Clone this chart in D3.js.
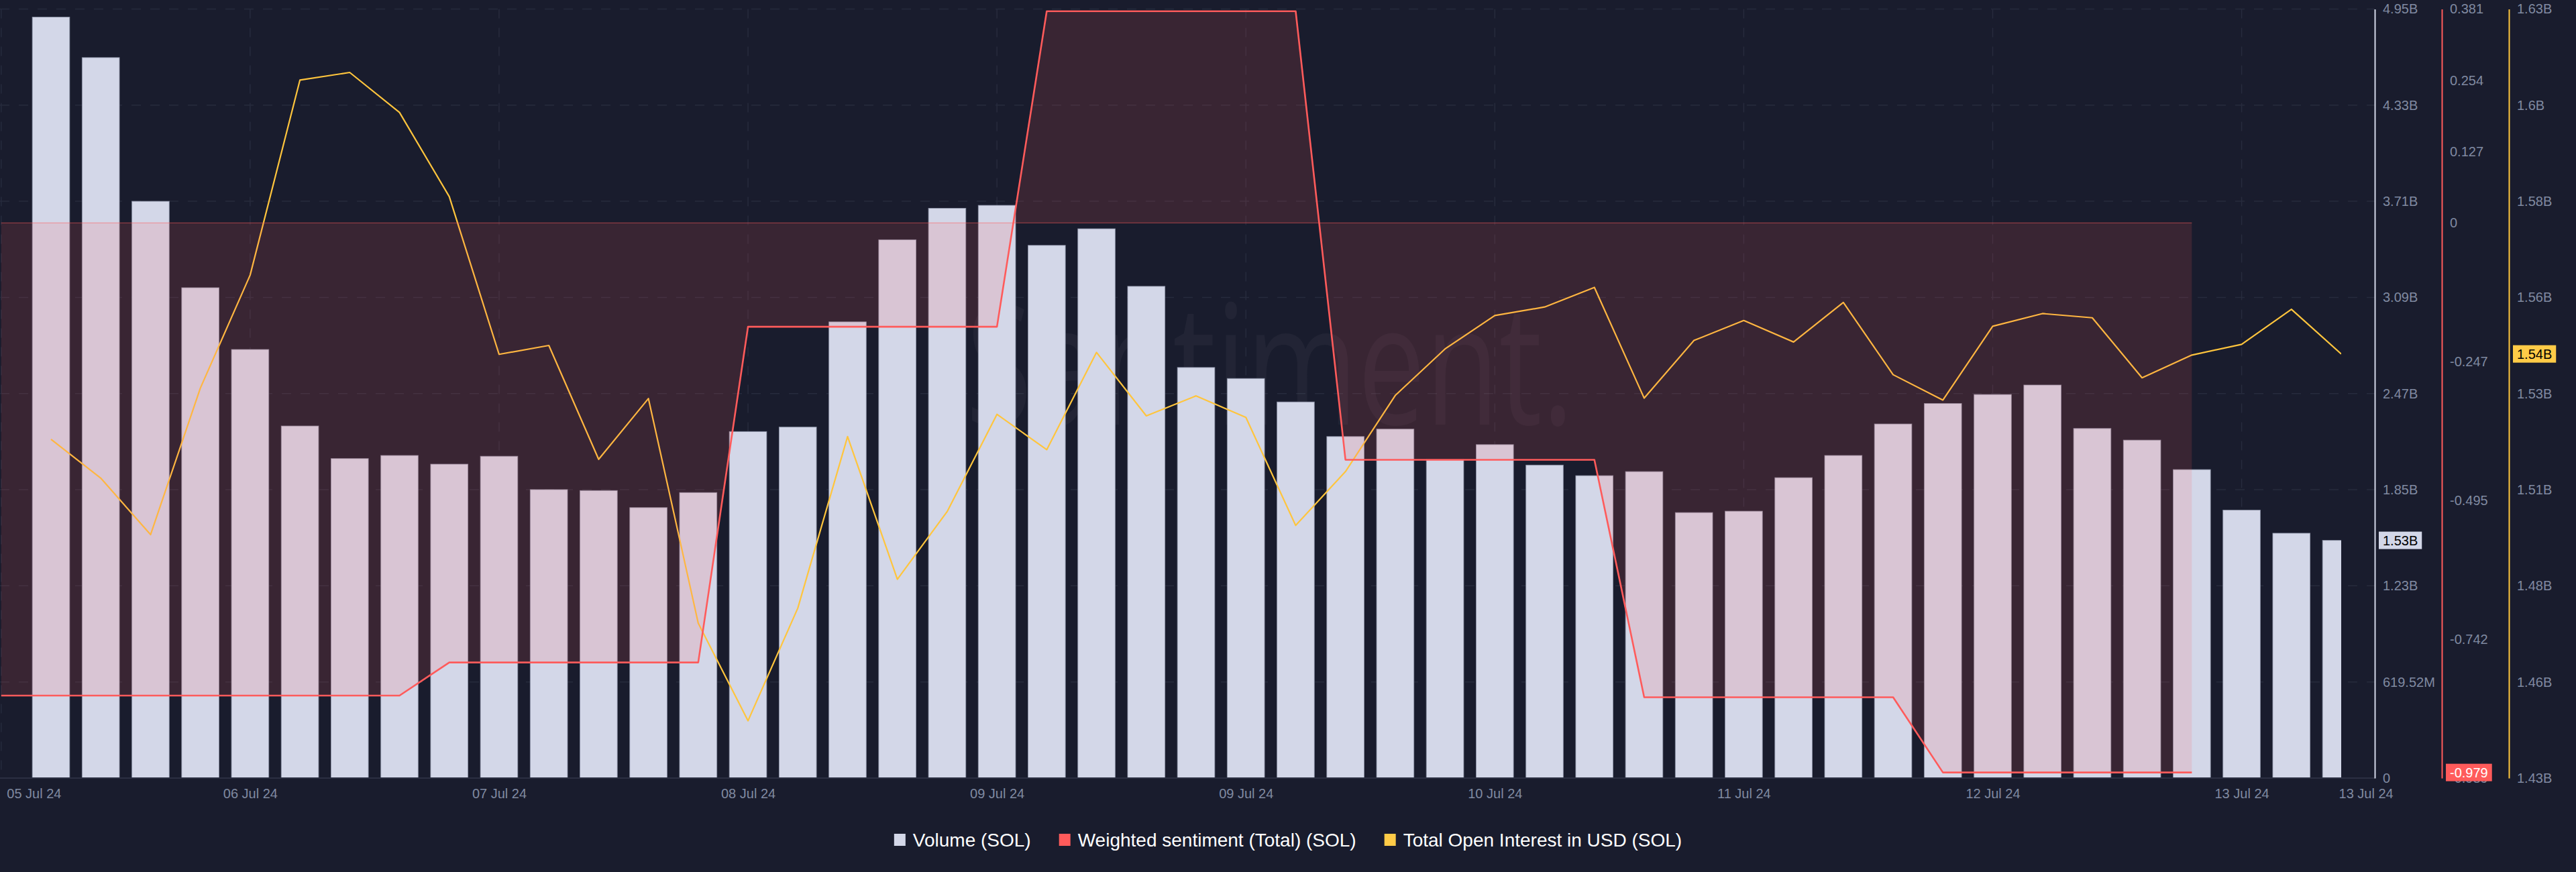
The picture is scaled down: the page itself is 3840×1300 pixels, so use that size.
<!DOCTYPE html>
<html>
<head>
<meta charset="utf-8">
<script src="https://cdn.jsdelivr.net/npm/d3@7"></script>
<style>
    body { margin: 0; background: #191c2d; }
    svg { display: block; font-family: "Liberation Sans", Arial, sans-serif; }
</style>
</head>
<body>
<svg id="chart"></svg>
<script>
// bar index -> one 4.8h period, 05 Jul .. 13 Jul 2024
let volume = [4.904, 4.643, 3.717, 3.160, 2.762, 2.269, 2.059, 2.079, 2.023, 2.074,
    1.859, 1.853, 1.743, 1.840, 2.233, 2.262, 2.940, 3.469, 3.672, 3.691,
    3.433, 3.540, 3.169, 2.646, 2.575, 2.424, 2.201, 2.249, 2.053, 2.149,
    2.017, 1.949, 1.975, 1.711, 1.720, 1.936, 2.079, 2.282, 2.414, 2.472,
    2.533, 2.253, 2.178, 1.988, 1.727, 1.578, 1.532];

let openInterest = [1.5181, 1.5080, 1.4933, 1.5314, 1.5608, 1.6115, 1.6135, 1.6031, 1.5812, 1.5402,
    1.5425, 1.5129, 1.5287, 1.4703, 1.4449, 1.4742, 1.5188, 1.4817, 1.4993, 1.5246,
    1.5154, 1.5407, 1.5242, 1.5294, 1.5238, 1.4957, 1.5097, 1.5295, 1.5416, 1.5503,
    1.5525, 1.5576, 1.5288, 1.5438, 1.5490, 1.5434, 1.5537, 1.5349, 1.5283, 1.5475,
    1.5508, 1.5497, 1.5341, 1.5400, 1.5428, 1.5519, 1.5403];

// sentiment starts one period before the first bar and stops at index 43
let sentimentStart = -1;
let sentiment = [-0.842, -0.842, -0.842, -0.842, -0.842, -0.842, -0.842, -0.842, -0.842,
    -0.783, -0.783, -0.783, -0.783, -0.783, -0.783,
    -0.185, -0.185, -0.185, -0.185, -0.185, -0.185,
    0.377, 0.377, 0.377, 0.377, 0.377, 0.377,
    -0.422, -0.422, -0.422, -0.422, -0.422, -0.422,
    -0.845, -0.845, -0.845, -0.845, -0.845, -0.845,
    -0.979, -0.979, -0.979, -0.979, -0.979, -0.979];

let dateTicks = [-1, 4, 9, 14, 19, 24, 29, 34, 39, 44];
let dateLabels = ['05 Jul 24', '06 Jul 24', '07 Jul 24', '08 Jul 24', '09 Jul 24',
    '09 Jul 24', '10 Jul 24', '11 Jul 24', '12 Jul 24', '13 Jul 24'];
let endDateLabel = '13 Jul 24';

let volTicks = [0, 0.61952, 1.23904, 1.85856, 2.47808, 3.0976, 3.71712, 4.33664, 4.95616];
let volLabels = ['0', '619.52M', '1.23B', '1.85B', '2.47B', '3.09B', '3.71B', '4.33B', '4.95B'];
let sentTicks = [0.381, 0.254, 0.127, 0, -0.247, -0.495, -0.742, -0.989];
let sentLabels = ['0.381', '0.254', '0.127', '0', '-0.247', '-0.495', '-0.742', '-0.989'];
let oiTicks = [1.43, 1.455, 1.48, 1.505, 1.53, 1.555, 1.58, 1.605, 1.63];
let oiLabels = ['1.43B', '1.46B', '1.48B', '1.51B', '1.53B', '1.56B', '1.58B', '1.6B', '1.63B'];

// last values as shown on the axis badges
let lastLabels = { volume: '1.53B', sentiment: '-0.979', openInterest: '1.54B' };

let legendItems = [
    { name: 'Volume (SOL)', color: '#d3d7e8' },
    { name: 'Weighted sentiment (Total) (SOL)', color: '#ff5b5b' },
    { name: 'Total Open Interest in USD (SOL)', color: '#ffcb47' }
];

let width = 3840, height = 1300;
let plot = { left: 0, right: 3540, top: 13.4, bottom: 1160 };
let volColor = '#d3d7e8', sentColor = '#ff5b5b', oiColor = '#ffc53d';
let labelColor = '#808aa1', gridColor = '#272b3d';

let svg = d3.select('#chart')
    .attr('width', width)
    .attr('height', height)
    .style('background', '#191c2d');

let lastIdx = volume.length - 1;
let xScale = d3.scaleLinear()
    .domain([0, lastIdx])
    .range([76, 3490]);
let step = xScale(1) - xScale(0);
let barW = step * 0.75;

let yVol = d3.scaleLinear().domain([0, volTicks[volTicks.length - 1]]).range([plot.bottom, plot.top]);
let ySent = d3.scaleLinear().domain([-0.989, 0.381]).range([plot.bottom, plot.top]);
let yOI = d3.scaleLinear().domain([1.43, 1.63]).range([plot.bottom, plot.top]);

// grid
let grid = svg.append('g');
grid.selectAll('line.h').data(volTicks.slice(1)).enter().append('line')
    .attr('x1', plot.left).attr('x2', plot.right)
    .attr('y1', d => yVol(d)).attr('y2', d => yVol(d))
    .attr('stroke', gridColor).attr('stroke-width', 1.5)
    .attr('stroke-dasharray', '14,14');
grid.selectAll('line.v').data(dateTicks).enter().append('line')
    .attr('x1', d => xScale(d)).attr('x2', d => xScale(d))
    .attr('y1', plot.top).attr('y2', plot.bottom)
    .attr('stroke', gridColor).attr('stroke-width', 1.5)
    .attr('stroke-dasharray', '14,14');

// watermark
svg.append('text')
    .attr('x', 1440).attr('y', 633)
    .attr('textLength', 906).attr('lengthAdjust', 'spacingAndGlyphs')
    .style('font-family', '"Open Sans", sans-serif')
    .style('font-size', '250px')
    .style('fill', '#ffffff').style('fill-opacity', 0.04)
    .text('Santiment.');

svg.append('clipPath').attr('id', 'plotClip')
    .append('rect')
    .attr('x', plot.left).attr('y', 0)
    .attr('width', xScale(lastIdx) - plot.left).attr('height', plot.bottom + 2);

let chartArea = svg.append('g').attr('clip-path', 'url(#plotClip)');

// volume bars
chartArea.append('g').selectAll('rect').data(volume)
    .enter().append('rect')
    .attr('x', (d, i) => xScale(i) - barW / 2)
    .attr('y', d => yVol(d))
    .attr('width', barW)
    .attr('height', d => yVol(0) - yVol(d))
    .attr('fill', volColor)
    .attr('stroke', '#8d93a8')
    .attr('stroke-width', 1)
    .attr('stroke-opacity', 0.8);

// open interest line (under the sentiment fill)
let oiLine = d3.line()
    .x((d, i) => xScale(i))
    .y(d => yOI(d));
chartArea.append('path')
    .datum(openInterest)
    .attr('d', oiLine)
    .attr('fill', 'none')
    .attr('stroke', oiColor)
    .attr('stroke-width', 2.2)
    .attr('stroke-linejoin', 'round');

// sentiment area against zero, then its line
let sentArea = d3.area()
    .x((d, i) => xScale(i + sentimentStart))
    .y0(ySent(0))
    .y1(d => ySent(d));
chartArea.append('path')
    .datum(sentiment)
    .attr('d', sentArea)
    .attr('fill', sentColor)
    .attr('fill-opacity', 0.14);

chartArea.append('line')
    .attr('x1', xScale(sentimentStart)).attr('x2', xScale(sentimentStart + sentiment.length - 1))
    .attr('y1', ySent(0)).attr('y2', ySent(0))
    .attr('stroke', sentColor).attr('stroke-opacity', 0.6).attr('stroke-width', 1);

let sentLine = d3.line()
    .x((d, i) => xScale(i + sentimentStart))
    .y(d => ySent(d));
chartArea.append('path')
    .datum(sentiment)
    .attr('d', sentLine)
    .attr('fill', 'none')
    .attr('stroke', sentColor)
    .attr('stroke-width', 2.6)
    .attr('stroke-linejoin', 'round');

// bottom base line
svg.append('line')
    .attr('x1', plot.left).attr('x2', plot.right)
    .attr('y1', plot.bottom).attr('y2', plot.bottom)
    .attr('stroke', '#2b2f42').attr('stroke-width', 2);

// right axes
function rightAxis(scale, ticks, labels, xPos, color) {
    let axis = d3.axisRight(scale)
        .tickValues(ticks)
        .tickFormat((d, i) => labels[i])
        .tickSize(0)
        .tickSizeOuter(0)
        .tickPadding(12);
    let g = svg.append('g')
        .attr('transform', 'translate(' + xPos + ',0)')
        .call(axis);
    g.select('.domain').attr('stroke', color).attr('stroke-width', 2);
    g.selectAll('text')
        .attr('fill', labelColor)
        .style('font-size', '20px')
        .style('font-family', '"Liberation Sans", Arial, sans-serif');
    return g;
}
rightAxis(yVol, volTicks, volLabels, plot.right, volColor);
rightAxis(ySent, sentTicks, sentLabels, 3640, sentColor);
rightAxis(yOI, oiTicks, oiLabels, 3740, oiColor);

// last-value badges
function badge(xPos, yPos, text, bg, fg) {
    let g = svg.append('g').attr('transform', 'translate(' + xPos + ',' + yPos + ')');
    let t = g.append('text')
        .attr('x', 6).attr('y', 0).attr('dy', '0.35em')
        .style('font-size', '20px')
        .attr('fill', fg)
        .text(text);
    let w = t.node().getComputedTextLength() + 12;
    g.insert('rect', 'text')
        .attr('x', 0).attr('y', -13)
        .attr('width', w).attr('height', 26)
        .attr('fill', bg);
}
badge(plot.right + 6, yVol(volume[lastIdx]), lastLabels.volume, volColor, '#000');
badge(3646, ySent(sentiment[sentiment.length - 1]), lastLabels.sentiment, sentColor, '#fff');
badge(3746, yOI(openInterest[lastIdx]), lastLabels.openInterest, '#ffcb47', '#000');

// date axis
let xAxis = d3.axisBottom(xScale)
    .tickValues(dateTicks)
    .tickFormat((d, i) => dateLabels[i])
    .tickSize(0)
    .tickSizeOuter(0)
    .tickPadding(16);
let xg = svg.append('g')
    .attr('transform', 'translate(0,' + plot.bottom + ')')
    .call(xAxis);
xg.select('.domain').remove();
xg.selectAll('text')
    .attr('fill', labelColor)
    .style('font-size', '20px');
xg.select('.tick text').attr('text-anchor', 'start').attr('x', 8);

svg.append('text')
    .attr('x', xScale(lastIdx + 0.5))
    .attr('y', plot.bottom + 16).attr('dy', '0.71em')
    .attr('text-anchor', 'middle')
    .attr('fill', labelColor)
    .style('font-size', '20px')
    .text(endDateLabel);

// legend
let legend = svg.append('g');
let lx = 0;
legendItems.forEach(function (item) {
    let g = legend.append('g').attr('transform', 'translate(' + lx + ',0)');
    g.append('rect')
        .attr('x', 0).attr('y', -9)
        .attr('width', 17).attr('height', 18)
        .attr('fill', item.color);
    let t = g.append('text')
        .attr('x', 28).attr('dy', '0.35em')
        .attr('fill', '#ffffff')
        .style('font-size', '28px')
        .text(item.name);
    lx += 28 + t.node().getComputedTextLength() + 42;
});
let legendW = lx - 42;
legend.attr('transform', 'translate(' + ((width - legendW) / 2) + ',1252)');
</script>
</body>
</html>
